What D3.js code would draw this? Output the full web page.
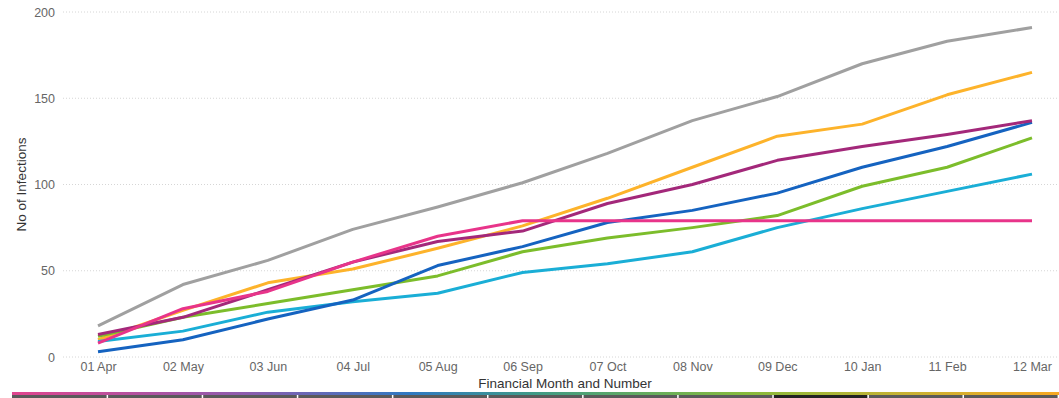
<!DOCTYPE html>
<html>
<head>
<meta charset="utf-8">
<script src="https://cdn.jsdelivr.net/npm/d3@7"></script>
<style>
  html, body { margin: 0; padding: 0; background: #fff; }
  svg { display: block; font-family: "Liberation Sans", Arial, sans-serif; }
</style>
</head>
<body>
<svg id="chart" width="1059" height="398"></svg>
<script>
// Months of the financial year (x-axis categories)
const months = ["01 Apr", "02 May", "03 Jun", "04 Jul", "05 Aug", "06 Sep",
                "07 Oct", "08 Nov", "09 Dec", "10 Jan", "11 Feb", "12 Mar"];

// Cumulative number of infections per series
const seriesGray   = [18, 42, 56, 74, 87, 101, 118, 137, 151, 170, 183, 191];
const seriesYellow = [10, 27, 43, 51, 63, 76, 92, 110, 128, 135, 152, 165];
const seriesPurple = [13, 23, 39, 55, 67, 73, 89, 100, 114, 122, 129, 137];
const seriesBlue   = [3, 10, 22, 33, 53, 64, 78, 85, 95, 110, 122, 136];
const seriesGreen  = [12, 23, 31, 39, 47, 61, 69, 75, 82, 99, 110, 127];
const seriesCyan   = [9, 15, 26, 32, 37, 49, 54, 61, 75, 86, 96, 106];
const seriesPink   = [8, 28, 38, 55, 70, 79, 79, 79, 79, 79, 79, 79];

const yTicks = [0, 50, 100, 150, 200];

const series = [
  { values: seriesGray,   color: "#a0a0a0" },
  { values: seriesYellow, color: "#fdb32b" },
  { values: seriesCyan,   color: "#1aaed6" },
  { values: seriesGreen,  color: "#7cbd2b" },
  { values: seriesBlue,   color: "#1563c0" },
  { values: seriesPurple, color: "#a3287a" },
  { values: seriesPink,   color: "#e8348a" }
];

const svg = d3.select("#chart");
const margin = { left: 63, right: 0, top: 12, bottom: 41 };
const W = 1059, H = 398;

const x = d3.scalePoint().domain(months).range([98, 1032]);
const y = d3.scaleLinear().domain([0, 200]).range([357, 12]);

// Dotted horizontal gridlines
svg.append("g")
  .selectAll("line")
  .data(yTicks)
  .join("line")
  .attr("x1", margin.left).attr("x2", W)
  .attr("y1", d => y(d)).attr("y2", d => y(d))
  .attr("stroke", "#d6d6d6")
  .attr("stroke-width", 1)
  .attr("stroke-dasharray", "1,2");

// Y axis labels
const yAxis = svg.append("g")
  .attr("transform", `translate(${margin.left - 8},0)`)
  .call(d3.axisLeft(y).tickValues(yTicks).tickSize(0).tickPadding(0));
yAxis.select(".domain").remove();
yAxis.selectAll("text")
  .attr("fill", "#666")
  .style("font-size", "12.5px")
  .style("font-family", "Liberation Sans, Arial, sans-serif");

// X axis labels
const xAxis = svg.append("g")
  .attr("transform", `translate(0,${y(0) + 3})`)
  .call(d3.axisBottom(x).tickSize(0).tickPadding(2));
xAxis.select(".domain").remove();
xAxis.selectAll("text")
  .attr("fill", "#666")
  .style("font-size", "12.5px")
  .style("font-family", "Liberation Sans, Arial, sans-serif");

// Axis titles
svg.append("text")
  .attr("x", 565).attr("y", 388)
  .attr("text-anchor", "middle")
  .attr("fill", "#333")
  .style("font-size", "13.5px")
  .text("Financial Month and Number");

svg.append("text")
  .attr("transform", `translate(26,${y(100)}) rotate(-90)`)
  .attr("text-anchor", "middle")
  .attr("fill", "#333")
  .style("font-size", "13.5px")
  .text("No of Infections");

// Lines
const line = d3.line()
  .x((d, i) => x(months[i]))
  .y(d => y(d));

svg.append("g")
  .selectAll("path")
  .data(series)
  .join("path")
  .attr("d", d => line(d.values))
  .attr("fill", "none")
  .attr("stroke", d => d.color)
  .attr("stroke-width", 3)
  .attr("stroke-linejoin", "round")
  .attr("stroke-linecap", "butt");

// Play-axis strip along the bottom edge
const defs = svg.append("defs");
const grad = defs.append("linearGradient").attr("id", "strip");
[["0%", "#e0458e"], ["22%", "#8e5cae"], ["38%", "#2f79c2"], ["50%", "#3f9b86"],
 ["70%", "#86bb3c"], ["85%", "#c6b234"], ["100%", "#f7a823"]].forEach(([o, c]) =>
  grad.append("stop").attr("offset", o).attr("stop-color", c));

svg.append("rect")
  .attr("x", 12).attr("y", 392).attr("width", W - 12).attr("height", 3)
  .attr("fill", "url(#strip)");

const segStarts = d3.range(12, W, 95.1);
svg.append("g")
  .selectAll("rect")
  .data(segStarts)
  .join("rect")
  .attr("x", d => d).attr("y", 395)
  .attr("width", 95.1).attr("height", 3)
  .attr("fill", (d, i) => i === 8 ? "#222" : "#5a5a5a");

svg.append("g")
  .selectAll("rect")
  .data(segStarts.slice(1))
  .join("rect")
  .attr("x", d => d - 0.5).attr("y", 395)
  .attr("width", 1.5).attr("height", 3)
  .attr("fill", "#fff");
</script>
</body>
</html>
